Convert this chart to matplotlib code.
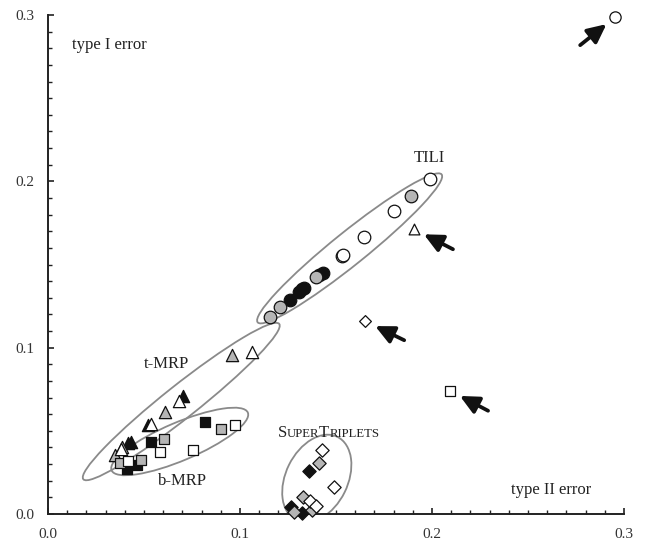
import matplotlib
matplotlib.use("Agg")
import matplotlib.pyplot as plt
from matplotlib.patches import Ellipse
from matplotlib.transforms import ScaledTranslation
from matplotlib.offsetbox import TextArea, HPacker, AnnotationBbox

# ---------------- data ----------------
# TILI (circles)
tili_black_x = [0.1434, 0.1413, 0.1331, 0.1323, 0.1309, 0.1259]
tili_black_y = [0.1451, 0.1437, 0.1359, 0.1351, 0.1335, 0.1287]
tili_gray_x = [0.1891, 0.1397, 0.1207, 0.1155]
tili_gray_y = [0.1914, 0.1423, 0.1243, 0.1186]
tili_white_x = [0.1988, 0.1803, 0.1645, 0.1529, 0.1539]
tili_white_y = [0.2013, 0.1824, 0.1666, 0.1552, 0.1556]

# t-MRP (triangles)
tmrp_black_x = [0.0417, 0.0431, 0.0521, 0.0703]
tmrp_black_y = [0.0425, 0.0435, 0.0535, 0.0711]
tmrp_gray_x = [0.0348, 0.0388, 0.0608, 0.0959]
tmrp_gray_y = [0.0357, 0.0401, 0.0612, 0.0958]
tmrp_white_x = [0.0378, 0.0535, 0.0682, 0.1061]
tmrp_white_y = [0.0390, 0.0539, 0.0679, 0.0974]

# b-MRP (squares)
bmrp_black_x = [0.0819, 0.0539, 0.0461, 0.0409]
bmrp_black_y = [0.0555, 0.0435, 0.0295, 0.0269]
bmrp_gray_x = [0.0899, 0.0604, 0.0482, 0.0374]
bmrp_gray_y = [0.0509, 0.0449, 0.0325, 0.0305]
bmrp_white_x = [0.0975, 0.0582, 0.0755, 0.0417]
bmrp_white_y = [0.0535, 0.0373, 0.0385, 0.0319]

# SuperTriplets (diamonds)
st_black_x = [0.1361, 0.1266, 0.1323]
st_black_y = [0.0260, 0.0040, 0.0008]
st_gray_x = [0.1413, 0.1326, 0.1375, 0.1283]
st_gray_y = [0.0308, 0.0104, 0.0024, 0.0010]
st_white_x = [0.1425, 0.1491, 0.1366, 0.1396]
st_white_y = [0.0385, 0.0161, 0.0080, 0.0048]

# outliers (marker, x, y)
out_markers = ["o", "^", "D", "s"]
out_x = [0.2954, 0.1906, 0.1652, 0.2094]
out_y = [0.2987, 0.1712, 0.1159, 0.0741]

# ---------------- figure ----------------
fig = plt.figure(figsize=(6.47, 5.43), dpi=100)
ax = fig.add_axes([48 / 647, (543 - 514) / 543, (624 - 48) / 647, (514 - 15) / 543])
ax.set_xlim(0, 0.3)
ax.set_ylim(0, 0.3)

serif = ["Liberation Serif", "DejaVu Serif"]
BLACK = "#111111"
GRAY = "#b5b5b5"
WHITE = "white"
EC = "#111111"

sizes = {"o": 82, "^": 78, "s": 56, "D": 46}
out_sizes = {"o": 66, "^": 60, "s": 44, "D": 36}

def pts(xs, ys, marker, fc, z=3):
    ax.scatter(xs, ys, s=sizes[marker], marker=marker, facecolor=fc,
               edgecolor=EC, linewidth=0.9, zorder=z, clip_on=False)

pts(tili_black_x, tili_black_y, "o", BLACK)
pts(tili_gray_x, tili_gray_y, "o", GRAY)
pts(tili_white_x, tili_white_y, "o", WHITE)
pts(tmrp_black_x, tmrp_black_y, "^", BLACK)
pts(tmrp_gray_x, tmrp_gray_y, "^", GRAY)
pts(tmrp_white_x, tmrp_white_y, "^", WHITE)
pts(bmrp_black_x, bmrp_black_y, "s", BLACK)
pts(bmrp_gray_x, bmrp_gray_y, "s", GRAY)
pts(bmrp_white_x, bmrp_white_y, "s", WHITE)
pts(st_black_x, st_black_y, "D", BLACK)
pts(st_gray_x, st_gray_y, "D", GRAY)
pts(st_white_x, st_white_y, "D", WHITE)
for m, x, y in zip(out_markers, out_x, out_y):
    ax.scatter([x], [y], s=out_sizes[m], marker=m, facecolor=WHITE,
               edgecolor=EC, linewidth=0.9, zorder=3, clip_on=False)

# ellipses (center in data, size in pixels, angle in degrees)
ellipses = [
    (0.1571, 0.1597, 236, 33, 38.8),
    (0.0694, 0.0676, 250, 33, 38.4),
    (0.0686, 0.0436, 148, 38, 23.0),
    (0.1400, 0.0213, 93, 62, 63.7),
]
for cx, cy, w, h, a in ellipses:
    e = Ellipse((0, 0), w / 100, h / 100, angle=a, fill=False,
                edgecolor="#8a8a8a", linewidth=1.3, zorder=2,
                transform=fig.dpi_scale_trans + ScaledTranslation(cx, cy, ax.transData))
    ax.add_patch(e)

# arrows: tail offset (px) relative to point
arrow_offsets = [(-35, -28), (39, -20), (39, -19), (38, -20)]
for (dx, dy), x, y in zip(arrow_offsets, out_x, out_y):
    ax.annotate("", xy=(x, y), xytext=(dx * 0.72, dy * 0.72), textcoords="offset points",
                arrowprops=dict(arrowstyle="-|>,head_length=0.75,head_width=0.36",
                                color="#111111", lw=2.7, shrinkA=0, shrinkB=8,
                                mutation_scale=15), zorder=4)

# labels
tkw = dict(fontfamily=serif, fontsize=12, color="#222222")
ax.text(0.0125, 0.282, "type I error", ha="left", va="center", **tkw)
ax.text(0.2623, 0.0144, "type II error", ha="center", va="center", **tkw)
ax.text(0.1984, 0.2141, "TILI", ha="center", va="center", **tkw)
ax.text(0.0618, 0.0902, "t-MRP", ha="center", va="center", **tkw)
ax.text(0.0701, 0.0198, "b-MRP", ha="center", va="center", **tkw)

parts = [("S", 12), ("UPER", 9.2), ("T", 12), ("RIPLETS", 9.2)]
boxes = [TextArea(s, textprops=dict(fontfamily=serif, fontsize=fs, color="#222222"))
         for s, fs in parts]
pack = HPacker(children=boxes, align="baseline", pad=0, sep=0)
ab = AnnotationBbox(pack, (0.146, 0.0487), xycoords="data", frameon=False,
                    box_alignment=(0.5, 0.5))
ax.add_artist(ab)

# axes styling
for s in ["top", "right"]:
    ax.spines[s].set_visible(False)
for s in ["left", "bottom"]:
    ax.spines[s].set_linewidth(1.4)
    ax.spines[s].set_color("#222222")
ax.set_xticks([0.0, 0.1, 0.2, 0.3])
ax.set_yticks([0.0, 0.1, 0.2, 0.3])
ax.set_xticklabels(["0.0", "0.1", "0.2", "0.3"])
ax.set_yticklabels(["0.0", "0.1", "0.2", "0.3"])
ax.set_xticks([i * 0.01 for i in range(31)], minor=True)
ax.set_yticks([i * 0.01 for i in range(31)], minor=True)
ax.tick_params(which="major", direction="in", length=4.5, width=1.2, color="#222222",
               labelsize=11, labelcolor="#333333")
ax.tick_params(which="minor", direction="in", length=2.8, width=1.0, color="#222222")
ax.tick_params(axis="y", which="major", pad=10)
ax.tick_params(axis="x", which="major", pad=10)
for lab in ax.get_xticklabels() + ax.get_yticklabels():
    lab.set_fontfamily(serif)

fig.savefig("out.png", dpi=100)
